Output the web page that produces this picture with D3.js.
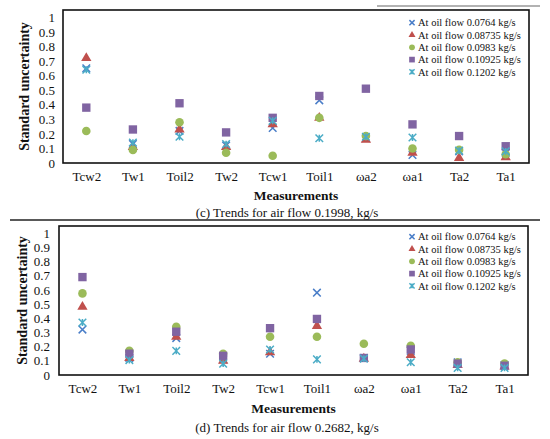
<!DOCTYPE html>
<html lang="en">
<head>
    <meta charset="UTF-8">
    <title>Standard uncertainty trends</title>
    <style>
        body,html{
            margin:0;
            padding:0;
            border:0;
            background:#fff;
        }
        svg text{
            font-family:"Liberation Serif","DejaVu Serif",serif !important;
        }
    </style>
</head>
<body>
    <svg id="svg" width="550" height="439" font-family="Liberation Serif, serif"></svg>
    <script type="text/javascript" src="https://cdnjs.cloudflare.com/ajax/libs/d3/7.8.5/d3.min.js"></script>
    <script type="text/javascript">
        var measurements = ["Tcw2", "Tw1", "Toil2", "Tw2", "Tcw1", "Toil1", "ωa2", "ωa1", "Ta2", "Ta1"];
        var seriesNames = ["At oil flow 0.0764 kg/s", "At oil flow 0.08735 kg/s", "At oil flow 0.0983 kg/s",
                           "At oil flow 0.10925 kg/s", "At oil flow 0.1202 kg/s"];
        var yTicks = [0, 0.1, 0.2, 0.3, 0.4, 0.5, 0.6, 0.7, 0.8, 0.9, 1];

        // (c) air flow 0.1998 kg/s
        var c_oil0764  = [0.65, 0.13, 0.22, 0.12, 0.24, 0.43, 0.17, 0.055, 0.08, 0.07];
        var c_oil08735 = [0.72, 0.11, 0.23, 0.11, 0.265, 0.31, 0.16, 0.07, 0.035, 0.04];
        var c_oil0983  = [0.22, 0.09, 0.28, 0.07, 0.05, 0.31, 0.185, 0.10, 0.09, 0.06];
        var c_oil10925 = [0.38, 0.23, 0.41, 0.21, 0.31, 0.46, 0.51, 0.265, 0.185, 0.115];
        var c_oil1202  = [0.64, 0.14, 0.18, 0.13, 0.29, 0.17, 0.18, 0.175, 0.085, 0.08];

        // (d) air flow 0.2682 kg/s
        var d_oil0764  = [0.32, 0.12, 0.26, 0.11, 0.15, 0.58, 0.12, 0.17, 0.09, 0.07];
        var d_oil08735 = [0.48, 0.12, 0.27, 0.10, 0.16, 0.345, 0.115, 0.14, 0.07, 0.06];
        var d_oil0983  = [0.575, 0.17, 0.34, 0.15, 0.27, 0.27, 0.22, 0.205, 0.09, 0.08];
        var d_oil10925 = [0.69, 0.15, 0.305, 0.135, 0.33, 0.395, 0.12, 0.18, 0.08, 0.065];
        var d_oil1202  = [0.37, 0.105, 0.17, 0.08, 0.18, 0.11, 0.115, 0.09, 0.05, 0.05];

        var colors = ["#4A7EC8", "#C0504D", "#9BBB59", "#8064A2", "#4BACC6"];
        var shapes = ["x", "triangle", "circle", "square", "star"];

        var svg = d3.select("#svg");

        function marker(sel, shape, color, s){
            //s = scale of the marker, 1 for the plot, smaller in the legend
            if(shape === "x" || shape === "star"){
                var h = 3.8*s;
                var p = "M"+(-h)+","+(-h)+"L"+h+","+h+"M"+(-h)+","+h+"L"+h+","+(-h);
                if(shape === "star") p += "M0,"+(-h*0.9)+"L0,"+(h*0.9);
                sel.append("path").attr("d", p)
                    .attr("stroke", color).attr("stroke-width", 1.5).attr("fill", "none");
            } else {
                var type = shape === "triangle" ? d3.symbolTriangle : shape === "circle" ? d3.symbolCircle : d3.symbolSquare;
                var size = shape === "triangle" ? 46 : shape === "circle" ? 58 : 70;
                sel.append("path").attr("d", d3.symbol().type(type).size(size*s*s))
                    .attr("fill", color);
            }
        }

        function drawChart(cfg){
            var x = d3.scalePoint().domain(measurements).range([cfg.left, cfg.right]).padding(0.5);
            var y = d3.scaleLinear().domain([0, 1.05]).range([cfg.bottom, cfg.top]);

            var g = svg.append("g");

            g.append("g")
                .attr("transform", "translate("+cfg.left+",0)")
                .call(d3.axisLeft(y).tickValues(yTicks).tickFormat(function(d){ return String(d); })
                    .tickSize(0).tickPadding(cfg.tickPad))
                .attr("font-family", null)
                .call(function(a){ a.select(".domain").remove(); })
                .selectAll("text").attr("font-size", 13).attr("fill", "#111");

            g.append("g")
                .attr("transform", "translate(0,"+cfg.bottom+")")
                .call(d3.axisBottom(x).tickSize(0).tickPadding(9))
                .attr("font-family", null)
                .call(function(a){ a.select(".domain").remove(); })
                .selectAll("text").attr("font-size", 13).attr("fill", "#111");

            cfg.series.forEach(function(vals, i){
                vals.forEach(function(v, j){
                    var m = g.append("g").attr("transform", "translate("+x(measurements[j])+","+y(v)+")");
                    marker(m, shapes[i], colors[i], 1);
                });
            });

            g.append("rect")
                .attr("x", cfg.left).attr("y", cfg.top)
                .attr("width", cfg.right-cfg.left).attr("height", cfg.bottom-cfg.top)
                .attr("fill", "none").attr("stroke", "#111").attr("stroke-width", 1.6);

            seriesNames.forEach(function(name, i){
                var ly = cfg.legendY + i*12.3;
                var m = g.append("g").attr("transform", "translate("+cfg.legendX+","+ly+")");
                marker(m, shapes[i], colors[i], 0.68);
                g.append("text").attr("x", cfg.legendX+6).attr("y", ly).attr("dy", "0.35em")
                    .attr("font-size", 10.5).attr("fill", "#111").text(name);
            });

            g.append("text")
                .attr("transform", "translate("+cfg.titleX+","+((cfg.top+cfg.bottom)/2)+") rotate(-90)")
                .attr("text-anchor", "middle").attr("dy", "0.35em")
                .attr("font-size", 14).attr("font-weight", "bold").attr("fill", "#111")
                .text("Standard uncertainty");

            g.append("text")
                .attr("x", (cfg.left+cfg.right)/2).attr("y", cfg.measY).attr("dy", "0.35em")
                .attr("text-anchor", "middle").attr("font-size", 13.5).attr("font-weight", "bold").attr("fill", "#111")
                .text("Measurements");

            g.append("text")
                .attr("x", 287).attr("y", cfg.capY).attr("dy", "0.35em")
                .attr("text-anchor", "middle").attr("font-size", 13).attr("fill", "#111")
                .text(cfg.caption);
        }

        drawChart({
            left:63, right:529, top:10, bottom:163, tickPad:8, titleX:24,
            legendX:412, legendY:22.7, measY:195, capY:212,
            caption:"(c) Trends for air flow 0.1998, kg/s",
            series:[c_oil0764, c_oil08735, c_oil0983, c_oil10925, c_oil1202]
        });

        drawChart({
            left:59, right:528, top:226, bottom:375, tickPad:9, titleX:22,
            legendX:412, legendY:236.7, measY:408, capY:427,
            caption:"(d) Trends for air flow 0.2682, kg/s",
            series:[d_oil0764, d_oil08735, d_oil0983, d_oil10925, d_oil1202]
        });

        //separator lines from the page
        svg.append("line").attr("x1", 377).attr("x2", 540).attr("y1", 6).attr("y2", 6)
            .attr("stroke", "#999").attr("stroke-width", 1.5);
        svg.append("line").attr("x1", 10).attr("x2", 540).attr("y1", 220).attr("y2", 220)
            .attr("stroke", "#222").attr("stroke-width", 1.5);
    </script>
</body>
</html>
